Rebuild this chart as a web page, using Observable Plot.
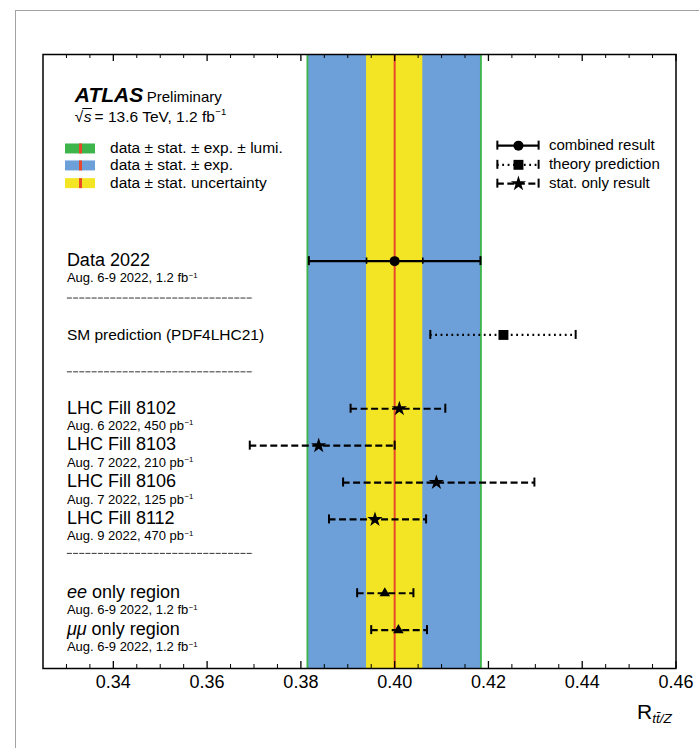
<!DOCTYPE html>
<html>
<head>
<meta charset="utf-8">
<script src="https://cdn.jsdelivr.net/npm/d3@7"></script>
<script src="https://cdn.jsdelivr.net/npm/@observablehq/plot@0.6"></script>
<style>
  html, body { margin: 0; padding: 0; background: #fff; overflow: hidden; }
  #page { position: relative; width: 699px; height: 748px; }
  #sheet { position: absolute; left: 15px; top: 10px; width: 720px; height: 760px;
           border-left: 1.5px solid #a3a3a3; border-top: 1.5px solid #a3a3a3; }
  #chart { position: absolute; left: 0; top: 0; }
  #chart svg text { font-family: "Liberation Sans", Arial, Helvetica, sans-serif; white-space: pre; }
</style>
</head>
<body>
<div id="page"><div id="sheet"></div><div id="chart"></div></div>
<script>
// ---- Measurements of R(tt/Z) at 13.6 TeV and the SM prediction ----
const rowTitles = ["Data 2022", "SM prediction (PDF4LHC21)", "LHC Fill 8102", "LHC Fill 8103",
                   "LHC Fill 8106", "LHC Fill 8112", "ee only region", "μμ only region"];
const rowNotes = ["Aug. 6-9 2022, 1.2 fb^−1", "", "Aug. 6 2022, 450 pb^−1", "Aug. 7 2022, 210 pb^−1",
                  "Aug. 7 2022, 125 pb^−1", "Aug. 9 2022, 470 pb^−1", "Aug. 6-9 2022, 1.2 fb^−1",
                  "Aug. 6-9 2022, 1.2 fb^−1"];
const rowSlots = [5, 7, 9, 10, 11, 12, 14, 15];
const rowKinds = ["combined", "theory", "stat", "stat", "stat", "stat", "stat", "stat"];
const rowMarkers = ["circle", "square", "star", "star", "star", "star", "triangle", "triangle"];
const centralValues = [0.400, 0.4232, 0.4010, 0.3838, 0.4089, 0.3958, 0.3979, 0.4008];
const lowerEdges    = [0.3817, 0.4076, 0.3906, 0.3691, 0.3890, 0.3860, 0.3920, 0.3950];
const upperEdges    = [0.4183, 0.4386, 0.4108, 0.4000, 0.4298, 0.4067, 0.4040, 0.4069];

// Uncertainty bands of the combined result
const combinedValue = 0.400;
const statUnc = 0.006;       // stat.
const statExpUnc = 0.0183;   // stat. + exp.
const totalUnc = 0.0187;     // stat. + exp. + lumi.

// Axis
const xDomain = [0.325, 0.46];
const yDomain = [-0.6, 16.04];
const majorTicks = [0.34, 0.36, 0.38, 0.40, 0.42, 0.44, 0.46];
const minorTicks = [0.33, 0.335, 0.345, 0.35, 0.355, 0.365, 0.37, 0.375, 0.385, 0.39, 0.395,
                    0.405, 0.41, 0.415, 0.425, 0.43, 0.435, 0.445, 0.45, 0.455];

// Legend entries
const bandLegendLabels = ["data ± stat. ± exp. ± lumi.", "data ± stat. ± exp.", "data ± stat. uncertainty"];
const markerLegendLabels = ["combined result", "theory prediction", "stat. only result"];
const separatorSlots = [6, 8, 12.92];

// ---- layout & style ----
const COLORS = {green: "#3db54a", blue: "#6d9fd8", yellow: "#f3e524", red: "#e8472a", ink: "#000"};
const FONT = `"Liberation Sans", Arial, Helvetica, sans-serif`;
const W = 699, H = 748;
const M = {top: 54, right: 23.5, bottom: 80, left: 42.5};
const pxPerRow = (H - M.top - M.bottom) / (yDomain[1] - yDomain[0]);
const capHalf = 4.5 / pxPerRow, innerTickHalf = 3.2 / pxPerRow;
const majorLen = 7 / pxPerRow, minorLen = 4 / pxPerRow;

const labelX = 0.3302, separatorX = [0.3302, 0.3699], headerX = 0.3319;
const swatchX = [0.3298, 0.3362], swatchLineX = 0.3330, swatchTextX = 0.3394;
const bandLegendRows = [1.96, 2.42, 2.9];
const sampleX = [0.4219, 0.4307], sampleDotX = 0.4264, sampleTextX = 0.4330;
const markerLegendRows = [1.87, 2.39, 2.9];

const rows = rowTitles.map((title, i) => ({
  title, note: rowNotes[i], slot: rowSlots[i], kind: rowKinds[i], marker: rowMarkers[i],
  value: centralValues[i], lo: lowerEdges[i], hi: upperEdges[i]
}));

const lineStyles = {
  combined: {strokeWidth: 2.2},
  theory: {strokeWidth: 2.2, strokeDasharray: "1.8,3.6"},
  stat: {strokeWidth: 2.2, strokeDasharray: "7,3.5"}
};
const markerSizes = {circle: 5, square: 5.6, star: 4.8, triangle: 3.9};

const markerLegend = markerLegendLabels.map((label, i) => ({
  label, slot: markerLegendRows[i], kind: ["combined", "theory", "stat"][i],
  marker: ["circle", "square", "star"][i], lo: sampleX[0], hi: sampleX[1], value: sampleDotX
}));
const bandLegend = bandLegendLabels.map((label, i) => ({label, slot: bandLegendRows[i]}));
const bandColors = [COLORS.green, COLORS.blue, COLORS.yellow];

// error bar pieces shared by the measurements and the legend samples
function errorBars(data) {
  const marks = [];
  for (const kind of ["combined", "theory", "stat"]) {
    marks.push(Plot.ruleY(data.filter(d => d.kind === kind),
      {y: "slot", x1: "lo", x2: "hi", stroke: COLORS.ink, ...lineStyles[kind]}));
  }
  const caps = data.flatMap(d => [{x: d.lo, slot: d.slot}, {x: d.hi, slot: d.slot}]);
  marks.push(Plot.ruleX(caps, {x: "x", y1: d => d.slot - capHalf, y2: d => d.slot + capHalf,
                               stroke: COLORS.ink, strokeWidth: 2}));
  for (const m of ["circle", "square", "star", "triangle"]) {
    marks.push(Plot.dot(data.filter(d => d.marker === m),
      {x: "value", y: "slot", symbol: m, r: markerSizes[m], fill: COLORS.ink, stroke: "none"}));
  }
  return marks;
}

const statTicks = rows.filter(d => d.kind === "combined")
  .flatMap(d => [{x: d.value - statUnc, slot: d.slot}, {x: d.value + statUnc, slot: d.slot}]);

const plot = Plot.plot({
  width: W, height: H,
  marginTop: M.top, marginRight: M.right, marginBottom: M.bottom, marginLeft: M.left,
  style: {background: "transparent", fontFamily: FONT, fontSize: "18px", color: "#000"},
  x: {domain: xDomain},
  y: {domain: yDomain, reverse: true, axis: null},
  marks: [
    // uncertainty bands
    Plot.rect([totalUnc], {x1: d => combinedValue - d, x2: d => combinedValue + d, fill: COLORS.green}),
    Plot.rect([statExpUnc], {x1: d => combinedValue - d, x2: d => combinedValue + d, fill: COLORS.blue}),
    Plot.rect([statUnc], {x1: d => combinedValue - d, x2: d => combinedValue + d, fill: COLORS.yellow}),
    Plot.ruleX([combinedValue], {stroke: COLORS.red, strokeWidth: 2}),

    // separators in the label column
    Plot.ruleY(separatorSlots, {x1: separatorX[0], x2: separatorX[1], stroke: "#333",
                                strokeWidth: 1, strokeDasharray: "5,1.2"}),

    // measurements
    ...errorBars(rows),
    Plot.ruleX(statTicks, {x: "x", y1: d => d.slot - innerTickHalf, y2: d => d.slot + innerTickHalf,
                           stroke: COLORS.ink, strokeWidth: 1.6}),

    // band legend swatches
    ...bandLegend.map((d, i) => Plot.rect([d], {x1: swatchX[0], x2: swatchX[1],
        y1: e => e.slot - 0.135, y2: e => e.slot + 0.135, fill: bandColors[i]})),
    Plot.ruleX(bandLegend, {x: swatchLineX, y1: d => d.slot - 0.135, y2: d => d.slot + 0.135,
                            stroke: COLORS.red, strokeWidth: 3}),

    // marker legend samples
    ...errorBars(markerLegend),

    // inward ticks on bottom and top edges
    Plot.ruleX(majorTicks, {y1: yDomain[1], y2: yDomain[1] - majorLen, stroke: COLORS.ink, strokeWidth: 1.3}),
    Plot.ruleX(minorTicks, {y1: yDomain[1], y2: yDomain[1] - minorLen, stroke: COLORS.ink, strokeWidth: 1}),
    Plot.ruleX(majorTicks, {y1: yDomain[0], y2: yDomain[0] + majorLen, stroke: COLORS.ink, strokeWidth: 1.3}),
    Plot.ruleX(minorTicks, {y1: yDomain[0], y2: yDomain[0] + minorLen, stroke: COLORS.ink, strokeWidth: 1}),

    Plot.axisX(majorTicks, {anchor: "bottom", tickSize: 0, tickPadding: 7,
                            tickFormat: d3.format(".2f"), label: null, fontSize: 18}),
    Plot.frame({stroke: COLORS.ink, strokeWidth: 1.5})
  ]
});

document.getElementById("chart").appendChild(plot);

// ---- rich text (italics, superscripts, overline) ----
const sx = plot.scale("x"), sy = plot.scale("y");
const g = d3.select(plot).append("g").attr("class", "annotations").attr("text-anchor", "start");

function rich(x, y, parts, size) {
  let cx = x;
  const boxes = [];
  for (const p of parts) {
    const s = p.size || size;
    const t = g.append("text")
      .attr("x", cx).attr("y", y + (p.dy || 0))
      .attr("text-anchor", "start")
      .attr("font-size", s)
      .attr("font-style", p.italic ? "italic" : null)
      .attr("font-weight", p.bold ? "bold" : null)
      .attr("fill", "#000")
      .text(p.t);
    const w = t.node().getComputedTextLength();
    boxes.push({x0: cx, x1: cx + w});
    cx += w + (p.gap || 0);
  }
  return boxes;
}

// "fb^−1" -> base text followed by a raised exponent
function withExponent(text, size) {
  const [base, exp] = text.split("^");
  const parts = [{t: base, gap: 0.5}];
  if (exp) parts.push({t: exp, size: size * 0.6, dy: -size * 0.33});
  return parts;
}

// row titles and run notes
for (const d of rows) {
  const x0 = sx.apply(labelX), y0 = sy.apply(d.slot);
  const m = d.title.match(/^(ee|μμ)( .*)$/);
  if (d.note) {
    const titleParts = m ? [{t: m[1], italic: true}, {t: m[2]}] : [{t: d.title}];
    rich(x0, y0 + 5.3, titleParts, 18);
    rich(x0, y0 + 21.5, withExponent(d.note, 13), 13);
  } else {
    rich(x0, y0 + 5.5, [{t: d.title}], 15.5);
  }
}

// header
const hx = sx.apply(headerX);
rich(hx, 101.5, [{t: "ATLAS", bold: true, italic: true, size: 21, gap: 3.5}, {t: "Preliminary", size: 15}], 15);
const rootBox = rich(hx, 121.5, [
  {t: "√", gap: 0.5}, {t: "s", italic: true, gap: 3}, {t: "= 13.6 TeV, 1.2 fb", gap: 0.5},
  {t: "−1", size: 9.5, dy: -6.5}
], 15.5);
g.append("line")
  .attr("x1", rootBox[0].x1 - 1).attr("x2", rootBox[1].x1 + 0.5)
  .attr("y1", 121.5 - 13).attr("y2", 121.5 - 13)
  .attr("stroke", "#000").attr("stroke-width", 1);

// legend labels
for (const d of bandLegend) rich(sx.apply(swatchTextX), sy.apply(d.slot) + 5, [{t: d.label}], 15.5);
for (const d of markerLegend) rich(sx.apply(sampleTextX), sy.apply(d.slot) + 5, [{t: d.label}], 15);

// axis title
rich(637, 719, [{t: "R", size: 21}, {t: "tt̄/Z", italic: true, size: 13.5, dy: 4}], 21);
</script>
</body>
</html>
